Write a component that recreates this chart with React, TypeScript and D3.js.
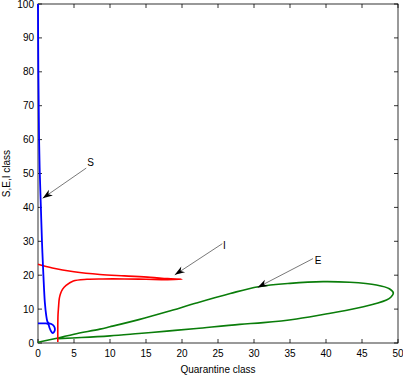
import React from 'react';
import * as d3 from 'd3';

// S trajectory (quarantine, S)
const sQ = [0, 0.02, 0.05, 0.1, 0.15, 0.25, 0.4, 0.55, 0.75, 0.95, 1.15, 1.3, 1.5, 1.85, 2.2, 2.35, 2.25, 2.05, 1.8, 1.6, 1.4, 1.0, 0.5, 0];
const sV = [100, 90, 80, 70, 60, 50, 40, 30, 20, 12, 8, 6.4, 5.8, 5.6, 5.0, 4.1, 3.3, 2.9, 3.5, 4.5, 5.6, 5.8, 5.8, 5.8];

// I trajectory
const iQ = [0, 2, 5, 8.6, 12, 15.6, 18, 20, 18, 15, 12, 9, 6.8, 4.9, 3.9, 3.4, 3.1, 2.95, 2.85, 2.78, 2.75, 2.75];
const iV = [23.2, 22.1, 21, 20.2, 19.8, 19.4, 19.0, 18.8, 18.7, 18.8, 18.9, 18.9, 18.8, 18.3, 17, 15.8, 14.4, 13, 10.5, 8.3, 5, 0.3];

// E trajectory
const eQ = [0, 2.8, 5, 8.6, 10, 14, 17.9, 22, 26.7, 30.6, 35, 39.6, 43.3, 47, 48.8, 49.35, 49, 48.4, 45.2, 40.6, 35.9, 31.3, 28, 22, 17.9, 14, 10, 6, 2.8];
const eV = [0.2, 1.5, 2.6, 4.1, 4.8, 6.9, 9.2, 11.8, 14.6, 16.6, 17.6, 18.1, 17.9, 17.1, 16, 14.8, 13.5, 12.7, 10.7, 8.8, 7.1, 6.0, 5.5, 4.3, 3.5, 2.8, 2.1, 1.6, 1.3];

const xTicks = [0, 5, 10, 15, 20, 25, 30, 35, 40, 45, 50];
const yTicks = [0, 10, 20, 30, 40, 50, 60, 70, 80, 90, 100];

// annotation arrows: label, text pos, tail, tip (data coords)
const arrowLabels = ['S', 'I', 'E'];
const arrowText = [[7.3, 53.5], [25.9, 28.9], [38.9, 24.5]];
const arrowTail = [[6.7, 51.6], [25.6, 29.3], [38.2, 24.9]];
const arrowTip = [[0.65, 42.7], [19.0, 20.1], [30.5, 16.4]];

const W = 403;
const H = 376;
const margin = { top: 4, right: 5, bottom: 33, left: 38 };
const font = 'Liberation Sans, Arial, Helvetica, sans-serif';

export default function App() {
  const x = d3.scaleLinear().domain([0, 50]).range([margin.left, W - margin.right]);
  const y = d3.scaleLinear().domain([0, 100]).range([H - margin.bottom, margin.top]);

  const line = d3.line<[number, number]>()
    .x(d => x(d[0]))
    .y(d => y(d[1]))
    .curve(d3.curveCatmullRom.alpha(0.5));

  const zip = (a: number[], b: number[]) => a.map((v, i) => [v, b[i]] as [number, number]);

  const x0 = x(0), x1 = x(50), y0 = y(0), y1 = y(100);
  const tl = 4;

  const head = (tail: number[], tip: number[]) => {
    const tx = x(tip[0]), ty = y(tip[1]);
    const dx = x(tail[0]) - tx, dy = y(tail[1]) - ty;
    const len = Math.hypot(dx, dy);
    const ux = dx / len, uy = dy / len;
    const px = -uy, py = ux;
    const L = 10, hw = 3.5, back = 7;
    const p = [
      [tx, ty],
      [tx + ux * L + px * hw, ty + uy * L + py * hw],
      [tx + ux * back, ty + uy * back],
      [tx + ux * L - px * hw, ty + uy * L - py * hw],
    ];
    return p.map(q => q.join(',')).join(' ');
  };

  return (
    <svg width={W} height={H} style={{ position: 'absolute', left: 0, top: 0, background: '#fff' }}>
      <rect x={0} y={0} width={W} height={H} fill="#fff" />
      <g fontFamily={font} fontSize={10} fill="#000">
        {/* box */}
        <rect x={x0} y={y1} width={x1 - x0} height={y0 - y1} fill="none" stroke="#000" strokeWidth={0.8} />
        {xTicks.map(t => (
          <g key={'x' + t}>
            <line x1={x(t)} x2={x(t)} y1={y0} y2={y0 - tl} stroke="#000" strokeWidth={0.8} />
            <line x1={x(t)} x2={x(t)} y1={y1} y2={y1 + tl} stroke="#000" strokeWidth={0.8} />
            <text x={x(t)} y={y0 + 14} textAnchor="middle">{t}</text>
          </g>
        ))}
        {yTicks.map(t => (
          <g key={'y' + t}>
            <line x1={x0} x2={x0 + tl} y1={y(t)} y2={y(t)} stroke="#000" strokeWidth={0.8} />
            <line x1={x1} x2={x1 - tl} y1={y(t)} y2={y(t)} stroke="#000" strokeWidth={0.8} />
            <text x={x0 - 4} y={y(t) + 3.5} textAnchor="end">{t}</text>
          </g>
        ))}
        <text x={(x0 + x1) / 2} y={H - 3} textAnchor="middle">Quarantine class</text>
        <text transform={`translate(10,${(y0 + y1) / 2}) rotate(-90)`} textAnchor="middle">S,E,I class</text>
      </g>

      <path d={line(zip(eQ, eV)) || ''} fill="none" stroke="#0a7d0a" strokeWidth={1.6} />
      <path d={line(zip(iQ, iV)) || ''} fill="none" stroke="#ff0000" strokeWidth={1.6} />
      <path d={line(zip(sQ, sV)) || ''} fill="none" stroke="#0000ff" strokeWidth={1.8} />

      <g fontFamily={font} fontSize={10}>
        {arrowLabels.map((lab, i) => (
          <g key={lab}>
            <line x1={x(arrowTail[i][0])} y1={y(arrowTail[i][1])} x2={x(arrowTip[i][0])} y2={y(arrowTip[i][1])}
              stroke="#555" strokeWidth={0.8} />
            <polygon points={head(arrowTail[i], arrowTip[i])} fill="#000" />
            <text x={x(arrowText[i][0])} y={y(arrowText[i][1]) + 4} textAnchor="middle">{lab}</text>
          </g>
        ))}
      </g>
    </svg>
  );
}
